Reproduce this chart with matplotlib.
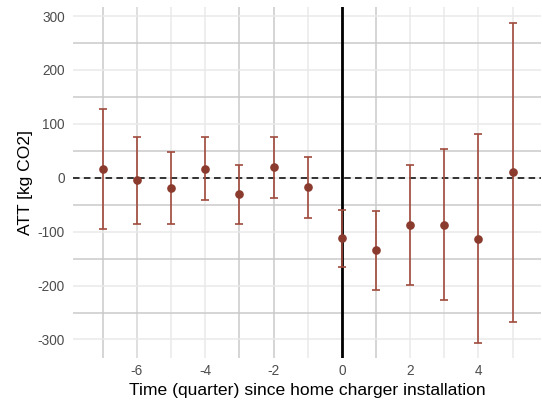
import matplotlib
matplotlib.use("Agg")
import matplotlib.pyplot as plt

# Data
quarters = [-7, -6, -5, -4, -3, -2, -1, 0, 1, 2, 3, 4, 5]
att = [17, -5, -19, 17, -31, 19, -18, -112, -134, -87, -87, -113, 10]
ci_upper = [128, 76, 48, 76, 23, 76, 39, -59, -61, 24, 54, 81, 287]
ci_lower = [-95, -85, -86, -41, -86, -38, -74, -165, -208, -199, -227, -306, -268]

xticks = [-6, -4, -2, 0, 2, 4]
yticks = [-300, -200, -100, 0, 100, 200, 300]

plt.rcParams['font.family'] = ['Liberation Sans', 'DejaVu Sans']

fig = plt.figure(figsize=(5.42, 4.05), dpi=100)
ax = fig.add_axes([73/542, 1-358/405, (541-73)/542, (358-7)/405])

ax.set_xlim(-7.87, 5.83)
ax.set_ylim(-334.4, 316.7)

dark = '#cacaca'
light = '#e9e9e9'
# vertical grid lines
vshade = {-7: dark, -6: '#d6d6d6', -5: light, -4: light, -3: dark, -2: dark,
          -1: light, 0: dark, 1: dark, 2: light, 3: light, 4: light, 5: light}
for xv, c in vshade.items():
    ax.axvline(xv, color=c, lw=1.1, zorder=0)
for yv in range(-300, 301, 50):
    c = light if yv % 100 == 0 else dark
    ax.axhline(yv, color=c, lw=1.1, zorder=0)

ax.axhline(0, color='black', lw=1.1, ls=(0, (4.3, 2.8)), zorder=2)
ax.axvline(0, color='black', lw=2.0, zorder=2)

err_lo = [a - l for a, l in zip(att, ci_lower)]
err_hi = [u - a for a, u in zip(att, ci_upper)]
ax.errorbar(quarters, att, yerr=[err_lo, err_hi], fmt='none',
            ecolor='#a04a3c', elinewidth=1.2, capsize=3.2, capthick=1.2, zorder=3)
ax.plot(quarters, att, 'o', color='#8b3a2e', markersize=5.2, zorder=4)

for s in ax.spines.values():
    s.set_visible(False)
ax.set_xticks(xticks)
ax.set_yticks(yticks)
ax.set_yticklabels([str(v) if v >= 0 else '-' + str(-v) for v in yticks])
ax.set_xticklabels([str(v) if v >= 0 else '-' + str(-v) for v in xticks])
ax.tick_params(length=0, labelsize=9.8, colors='#4d4d4d', pad=4.5)
ax.tick_params(axis='y', pad=6)

ax.set_xlabel('Time (quarter) since home charger installation', fontsize=12.6, color='black', labelpad=3.5)
ax.set_ylabel('ATT [kg CO2]', fontsize=12.6, color='black', labelpad=3)

fig.savefig('out.png', dpi=100)
